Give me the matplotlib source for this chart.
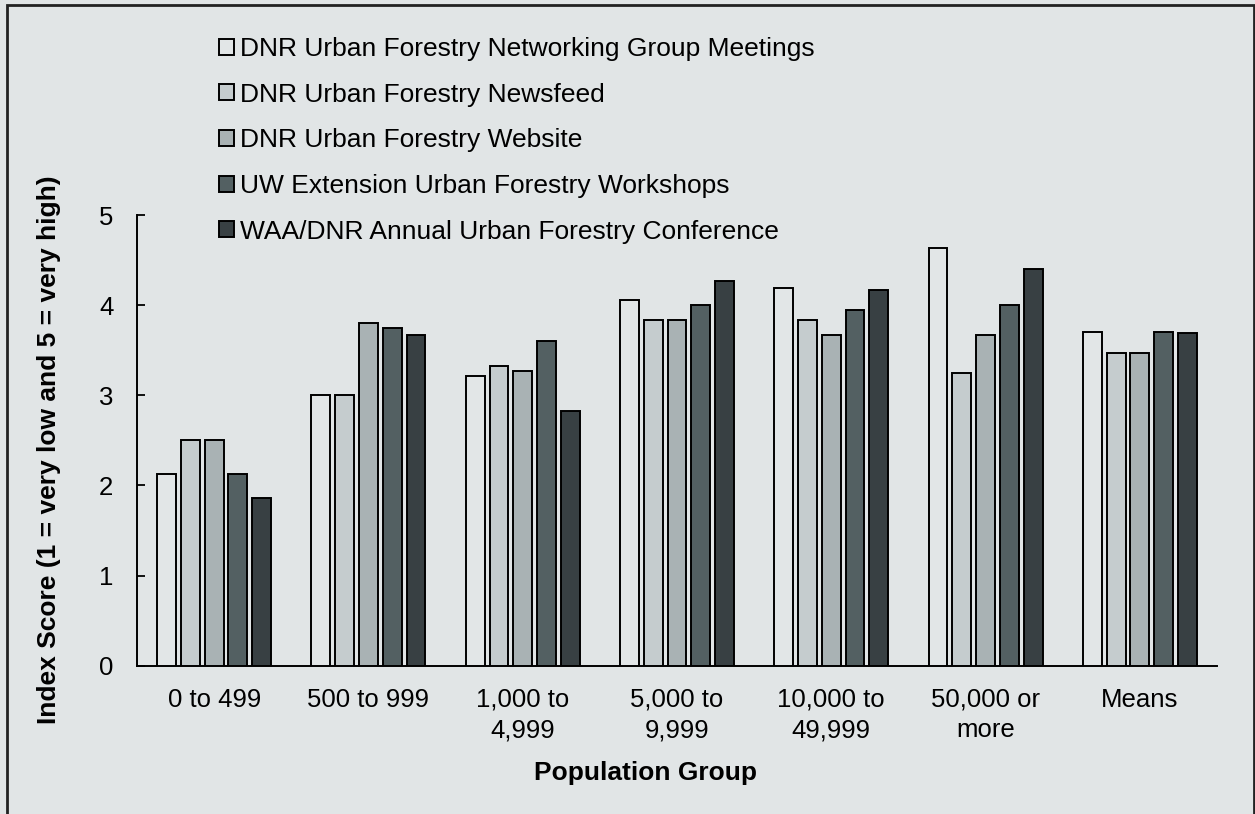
import matplotlib
matplotlib.use("Agg")
import matplotlib.pyplot as plt
from matplotlib.patches import Rectangle
import numpy as np

plt.rcParams['font.family'] = ['Liberation Sans', 'DejaVu Sans']

categories = ["0 to 499", "500 to 999", "1,000 to\n4,999", "5,000 to\n9,999",
              "10,000 to\n49,999", "50,000 or\nmore", "Means"]
series_names = ["DNR Urban Forestry Networking Group Meetings",
                "DNR Urban Forestry Newsfeed",
                "DNR Urban Forestry Website",
                "UW Extension Urban Forestry Workshops",
                "WAA/DNR Annual Urban Forestry Conference"]
networking = [2.13, 3.00, 3.21, 4.06, 4.19, 4.63, 3.70]
newsfeed   = [2.50, 3.00, 3.33, 3.84, 3.83, 3.25, 3.47]
website    = [2.50, 3.80, 3.27, 3.84, 3.67, 3.67, 3.47]
workshops  = [2.13, 3.75, 3.60, 4.00, 3.95, 4.00, 3.70]
conference = [1.86, 3.67, 2.83, 4.27, 4.17, 4.40, 3.69]
series = [networking, newsfeed, website, workshops, conference]
colors = ["#e2e6e7", "#c5ccce", "#a9b2b4", "#536062", "#384043"]
yticks = [0, 1, 2, 3, 4, 5]

bg = "#e1e5e6"
W, H = 1255, 814
fig = plt.figure(figsize=(W / 100, H / 100), dpi=100, facecolor=bg)
ax = fig.add_axes([137 / W, 1 - 665.7 / H, 1080 / W, 450.7 / H])
ax.set_facecolor(bg)

x = np.arange(len(categories))
step = 0.154
width = 0.122
handles = []
for i, (vals, c) in enumerate(zip(series, colors)):
    b = ax.bar(x + (i - 2) * step, vals, width, color=c, edgecolor="black",
               linewidth=1.4, label=series_names[i], zorder=3)
    handles.append(b)

ax.set_xlim(-0.5, len(categories) - 0.5)
ax.set_ylim(0, 5)
ax.set_yticks(yticks)
ax.set_xticks(x)
ax.set_xticklabels(categories, fontsize=18.5, linespacing=1.32)
ax.tick_params(axis='y', direction='in', length=6, width=1.3, pad=17, labelsize=18.5)
ax.tick_params(axis='x', length=0, pad=16)
for s in ["top", "right"]:
    ax.spines[s].set_visible(False)
ax.spines["left"].set_linewidth(1.4)
ax.spines["bottom"].set_linewidth(1.4)

ax.set_xlabel("Population Group", fontsize=19, fontweight="bold")
ax.xaxis.set_label_coords((645 - 137) / 1080, (665.7 - 773) / 450.7)
ax.xaxis.label.set_va("center")
ax.set_ylabel("Index Score (1 = very low and 5 = very high)", fontsize=19, fontweight="bold")
ax.yaxis.set_label_coords((49 - 137) / 1080, (665.7 - 450) / 450.7)
ax.yaxis.label.set_va("center")

leg = ax.legend(handles=handles, labels=series_names, loc="upper left",
                bbox_to_anchor=(219 / W, 1 - 37 / H), bbox_transform=fig.transFigure,
                frameon=False, fontsize=19, handlelength=0.55, handleheight=0.55,
                handletextpad=0.25, labelspacing=0.82, borderpad=0, borderaxespad=0)
for p in leg.get_patches():
    p.set_linewidth(1.4)

border = Rectangle((7 / W, -0.05), (1254 - 7) / W, 1 - 5 / H + 0.05,
                   transform=fig.transFigure, fill=False, edgecolor="#222222",
                   linewidth=2)
fig.patches.append(border)

fig.savefig("out.png", dpi=100, facecolor=bg)
